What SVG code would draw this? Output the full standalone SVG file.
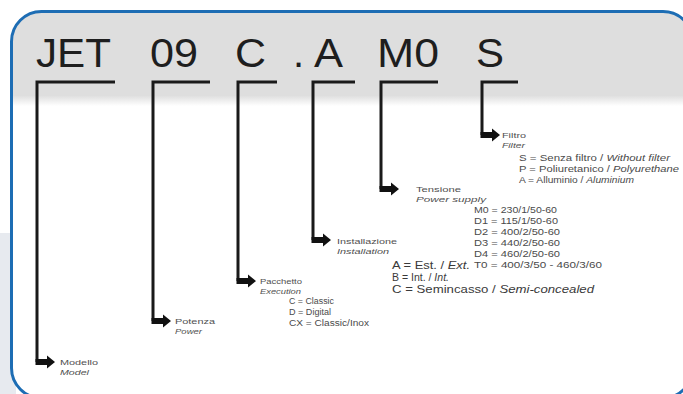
<svg xmlns="http://www.w3.org/2000/svg" width="683" height="394" viewBox="0 0 683 394">
<style>
.code{font-family:"Liberation Sans",Arial,sans-serif;font-size:40px;fill:#1e1e1e}
.lbl{font-family:"Liberation Sans",Arial,sans-serif;font-size:8px;fill:#505050}
.opt{font-family:"Liberation Sans",Arial,sans-serif;font-size:8.5px;fill:#4a4a4a}
.big{font-family:"Liberation Sans",Arial,sans-serif;font-size:10.5px;fill:#3a3a3a}
.it{font-style:italic}
.br{fill:none;stroke:#1a1a1a;stroke-width:3}
.ar{fill:#111}
</style>
<defs>
<clipPath id="clip"><rect x="11.5" y="11.5" width="681.5" height="386.5" rx="30"/></clipPath>
<linearGradient id="band" x1="0" y1="0" x2="0" y2="1">
<stop offset="0" stop-color="#dedede"/>
<stop offset="0.9" stop-color="#dedede"/>
<stop offset="1" stop-color="#ffffff"/>
</linearGradient>
<path id="arrow" d="M-1.5,-3 H10 V-6.5 L18,0 L10,6.5 V3 H-1.5 Z"/>
</defs>
<rect x="0" y="0" width="683" height="394" fill="#ffffff"/>
<rect x="0" y="233" width="16" height="161" fill="#e7eaef"/>
<g id="panel">
<rect x="11.5" y="11.5" width="681.5" height="386.5" rx="30" fill="#ffffff"/>
<rect x="0" y="0" width="683" height="106" fill="url(#band)" clip-path="url(#clip)"/>
<rect x="11.5" y="11.5" width="681.5" height="386.5" rx="30" fill="none" stroke="#1d6db4" stroke-width="3"/>
</g>
<g id="code-jet"><text class="code" x="36" y="67" textLength="75" lengthAdjust="spacingAndGlyphs">JET</text></g>
<g id="code-09"><text class="code" x="150" y="67" textLength="48" lengthAdjust="spacingAndGlyphs">09</text></g>
<g id="code-c"><text class="code" x="235" y="67" textLength="31" lengthAdjust="spacingAndGlyphs">C</text></g>
<g id="code-dot"><text class="code" x="293" y="67">.</text></g>
<g id="code-a"><text class="code" x="314" y="67" textLength="29" lengthAdjust="spacingAndGlyphs">A</text></g>
<g id="code-m0"><text class="code" x="377" y="67" textLength="62" lengthAdjust="spacingAndGlyphs">M0</text></g>
<g id="code-s"><text class="code" x="476" y="67" textLength="28" lengthAdjust="spacingAndGlyphs">S</text></g>
<g id="connectors">
<path class="br" d="M115,82 H37 V362"/>
<path class="br" d="M210,82 H153 V321"/>
<path class="br" d="M277,82 H238 V281"/>
<path class="br" d="M355,82 H313 V240"/>
<path class="br" d="M438,82 H381 V189"/>
<path class="br" d="M518,82 H482 V135"/>
<use href="#arrow" class="ar" x="37" y="362"/>
<use href="#arrow" class="ar" x="153" y="321"/>
<use href="#arrow" class="ar" x="238" y="281"/>
<use href="#arrow" class="ar" x="313" y="240"/>
<use href="#arrow" class="ar" x="381" y="189"/>
<use href="#arrow" class="ar" x="482" y="135"/>
</g>
<g id="desc-filtro">
<text class="lbl" x="502" y="138" textLength="24" lengthAdjust="spacingAndGlyphs">Filtro</text>
<text class="lbl it" x="502" y="148" textLength="23" lengthAdjust="spacingAndGlyphs">Filter</text>
<text class="opt" x="519" y="161" textLength="151" lengthAdjust="spacingAndGlyphs">S = Senza filtro / <tspan class="it">Without filter</tspan></text>
<text class="opt" x="519" y="172" textLength="160" lengthAdjust="spacingAndGlyphs">P = Poliuretanico / <tspan class="it">Polyurethane</tspan></text>
<text class="opt" x="519" y="183" textLength="115" lengthAdjust="spacingAndGlyphs">A = Alluminio / <tspan class="it">Aluminium</tspan></text>
</g>
<g id="desc-tensione">
<text class="lbl" x="416" y="192" textLength="45" lengthAdjust="spacingAndGlyphs">Tensione</text>
<text class="lbl it" x="416" y="202" textLength="70" lengthAdjust="spacingAndGlyphs">Power supply</text>
<text class="opt" x="474" y="213" textLength="83" lengthAdjust="spacingAndGlyphs">M0 = 230/1/50-60</text>
<text class="opt" x="474" y="224" textLength="84" lengthAdjust="spacingAndGlyphs">D1 = 115/1/50-60</text>
<text class="opt" x="474" y="235" textLength="86" lengthAdjust="spacingAndGlyphs">D2 = 400/2/50-60</text>
<text class="opt" x="474" y="246" textLength="86" lengthAdjust="spacingAndGlyphs">D3 = 440/2/50-60</text>
<text class="opt" x="474" y="257" textLength="86" lengthAdjust="spacingAndGlyphs">D4 = 460/2/50-60</text>
<text class="opt" x="474" y="268" textLength="128" lengthAdjust="spacingAndGlyphs">T0 = 400/3/50 - 460/3/60</text>
</g>
<g id="desc-installazione">
<text class="lbl" x="337" y="244" textLength="60" lengthAdjust="spacingAndGlyphs">Installazione</text>
<text class="lbl it" x="337" y="254" textLength="52" lengthAdjust="spacingAndGlyphs">Installation</text>
<text class="big" x="392" y="269" textLength="78" lengthAdjust="spacingAndGlyphs">A = Est. / <tspan class="it">Ext.</tspan></text>
<text class="big" x="392" y="281" textLength="57" lengthAdjust="spacingAndGlyphs">B = Int. / <tspan class="it">Int.</tspan></text>
<text class="big" x="392" y="293" textLength="202" lengthAdjust="spacingAndGlyphs">C = Semincasso / <tspan class="it">Semi-concealed</tspan></text>
</g>
<g id="desc-pacchetto">
<text class="lbl" x="260" y="284" textLength="42" lengthAdjust="spacingAndGlyphs">Pacchetto</text>
<text class="lbl it" x="260" y="294" textLength="41" lengthAdjust="spacingAndGlyphs">Execution</text>
<text class="opt" x="289" y="304" textLength="45" lengthAdjust="spacingAndGlyphs">C = Classic</text>
<text class="opt" x="289" y="315" textLength="42" lengthAdjust="spacingAndGlyphs">D = Digital</text>
<text class="opt" x="289" y="326" textLength="80" lengthAdjust="spacingAndGlyphs">CX = Classic/Inox</text>
</g>
<g id="desc-potenza">
<text class="lbl" x="175" y="324" textLength="40" lengthAdjust="spacingAndGlyphs">Potenza</text>
<text class="lbl it" x="175" y="334" textLength="27" lengthAdjust="spacingAndGlyphs">Power</text>
</g>
<g id="desc-modello">
<text class="lbl" x="60" y="365" textLength="38" lengthAdjust="spacingAndGlyphs">Modello</text>
<text class="lbl it" x="60" y="375" textLength="29" lengthAdjust="spacingAndGlyphs">Model</text>
</g>
</svg>
